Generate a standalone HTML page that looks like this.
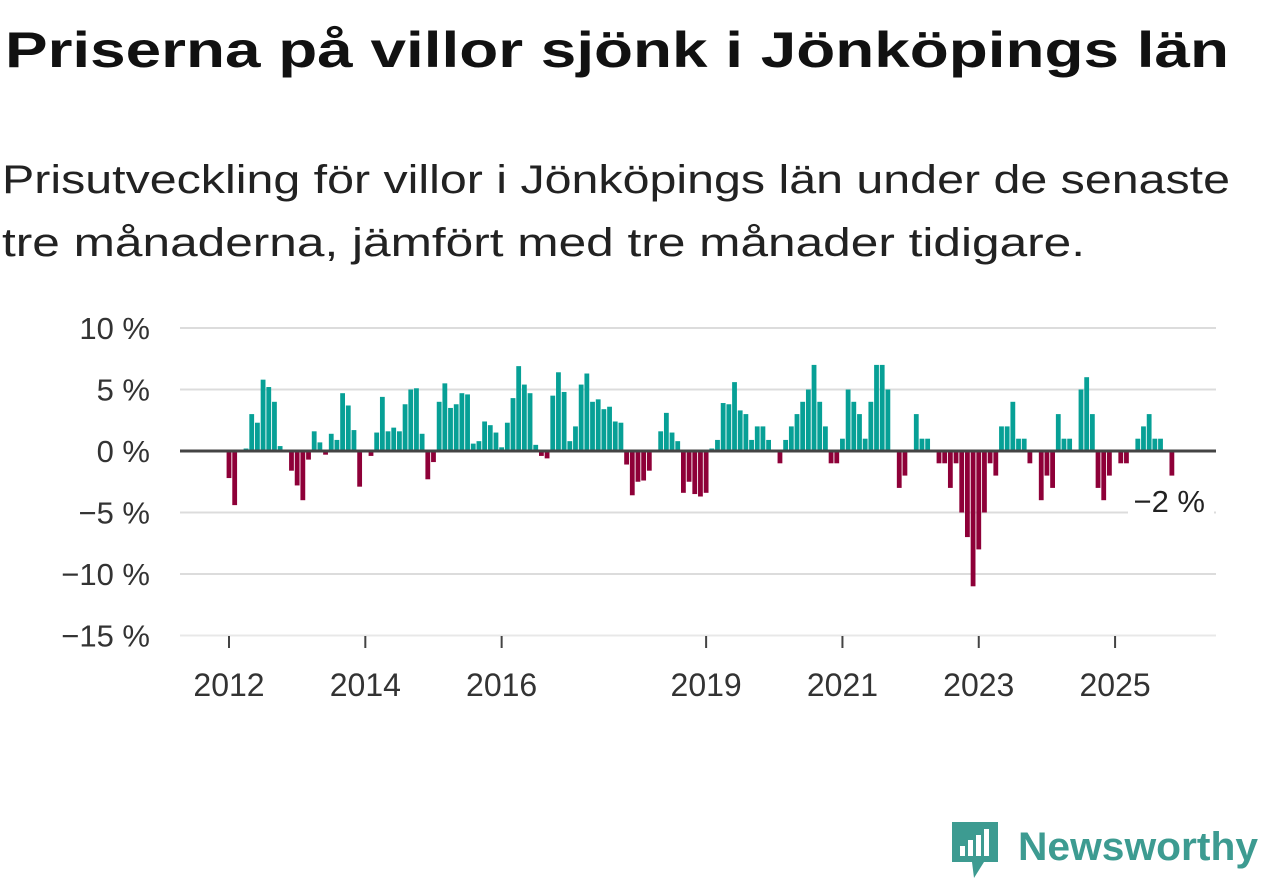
<!DOCTYPE html>
<html><head><meta charset="utf-8"><style>
html,body{margin:0;padding:0;background:#fff;}
svg{display:block;font-family:"Liberation Sans","DejaVu Sans",sans-serif;}
</style></head><body>
<svg id="chart" width="1262" height="879" viewBox="0 0 1262 879" xmlns="http://www.w3.org/2000/svg">
<text x="5" y="67" font-size="50" font-weight="bold" fill="#111" textLength="1224" lengthAdjust="spacingAndGlyphs">Priserna på villor sjönk i Jönköpings län</text>
<text x="2" y="193" font-size="40" fill="#222" textLength="1228" lengthAdjust="spacingAndGlyphs">Prisutveckling för villor i Jönköpings län under de senaste</text>
<text x="2" y="256" font-size="40" fill="#222" textLength="1083" lengthAdjust="spacingAndGlyphs">tre månaderna, jämfört med tre månader tidigare.</text>
<g id="grid"></g>
<g id="yaxis"></g>
<g id="bars"></g>
<g id="xaxis"></g>
<g id="annot"></g>
<g>
<path d="M952 822 h46 v40 h-14 l-10 16 l-2 -16 h-20 z" fill="#3d9b91"/>
<rect x="960" y="846" width="5" height="10" fill="#fff"/>
<rect x="968" y="840" width="5" height="16" fill="#fff"/>
<rect x="976" y="835" width="5" height="21" fill="#fff"/>
<rect x="984" y="829" width="5" height="27" fill="#fff"/>
<text x="1018" y="860" font-size="40" font-weight="bold" fill="#3d9b91" textLength="240" lengthAdjust="spacingAndGlyphs">Newsworthy</text>
</g>
</svg>
<script>
const yTicks = [10, 5, 0, -5, -10, -15];
const yTickLabels = ["10 %", "5 %", "0 %", "−5 %", "−10 %", "−15 %"];
const xTickYears = [2012, 2014, 2016, 2019, 2021, 2023, 2025];
const startYear = 2012;
const values = [
-2.2,-4.4,0,0.2,3.0,2.3,5.8,5.2,4.0,0.4,0,-1.6,
-2.8,-4.0,-0.7,1.6,0.7,-0.3,1.4,0.9,4.7,3.7,1.7,-2.9,
0,-0.4,1.5,4.4,1.6,1.9,1.6,3.8,5.0,5.1,1.4,-2.3,
-0.9,4.0,5.5,3.5,3.8,4.7,4.6,0.6,0.8,2.4,2.1,1.5,
0.3,2.3,4.3,6.9,5.4,4.7,0.5,-0.4,-0.6,4.5,6.4,4.8,
0.8,2.0,5.4,6.3,4.0,4.2,3.4,3.6,2.4,2.3,-1.1,-3.6,
-2.5,-2.4,-1.6,0,1.6,3.1,1.5,0.8,-3.4,-2.5,-3.5,-3.7,
-3.4,0.2,0.9,3.9,3.8,5.6,3.3,3.0,0.9,2.0,2.0,0.9,
0,-1.0,0.9,2.0,3.0,4.0,5.0,7.0,4.0,2.0,-1.0,-1.0,
1.0,5.0,4.0,3.0,1.0,4.0,7.0,7.0,5.0,0,-3.0,-2.0,
0,3.0,1.0,1.0,0,-1.0,-1.0,-3.0,-1.0,-5.0,-7.0,-11.0,
-8.0,-5.0,-1.0,-2.0,2.0,2.0,4.0,1.0,1.0,-1.0,0,-4.0,
-2.0,-3.0,3.0,1.0,1.0,0,5.0,6.0,3.0,-3.0,-4.0,-2.0,
0,-1.0,-1.0,0,1.0,2.0,3.0,1.0,1.0,0,-2.0
];
const NS = "http://www.w3.org/2000/svg";
const y = v => 451 - v * 12.3;
const x = i => 229 + i * 5.68;
function mk(tag, attrs, parent){const e=document.createElementNS(NS,tag);for(const k in attrs)e.setAttribute(k,attrs[k]);parent.appendChild(e);return e;}
const grid=document.getElementById('grid'), ya=document.getElementById('yaxis'), bars=document.getElementById('bars'), xa=document.getElementById('xaxis'), an=document.getElementById('annot');
yTicks.forEach((t,k)=>{
  if(t!==0){const l=mk('line',{x1:180,x2:1216,y1:y(t),y2:y(t),stroke:t===-15?'#e8e8e8':'#dcdcdc','stroke-width':2},grid);
  
  }
  const tx=mk('text',{x:150,y:y(t)+11,'font-size':31,fill:'#333','text-anchor':'end'},ya);
  tx.textContent=yTickLabels[k];
  
  
});
values.forEach((v,i)=>{
  if(v===0)return;
  const top=v>0?y(v):y(0), h=Math.abs(y(v)-y(0));
  const r=mk('rect',{x:x(i)-2.4,y:top,width:4.8,height:h,fill:v>0?'#07a096':'#8e0038'},bars);
  
  
});
const zl=mk('line',{x1:180,x2:1216,y1:y(0),y2:y(0),stroke:'#444','stroke-width':3},bars);


xTickYears.forEach(yr=>{
  const i=(yr-startYear)*12, xx=x(i);
  const tk=mk('line',{x1:xx,x2:xx,y1:636,y2:648,stroke:'#444','stroke-width':2},xa);
  
  
  const tx=mk('text',{x:xx,y:696,'font-size':32,fill:'#333','text-anchor':'middle'},xa);
  tx.textContent=String(yr);
  
  
});
const last=values[values.length-1];
const bg=mk('rect',{x:1128,y:484,width:86,height:32,fill:'#fff'},an);


const at=mk('text',{x:1205,y:512,'font-size':31,fill:'#222','text-anchor':'end'},an);
at.textContent=(last<0?'−':'')+Math.abs(last)+' %';


</script>
</body></html>
